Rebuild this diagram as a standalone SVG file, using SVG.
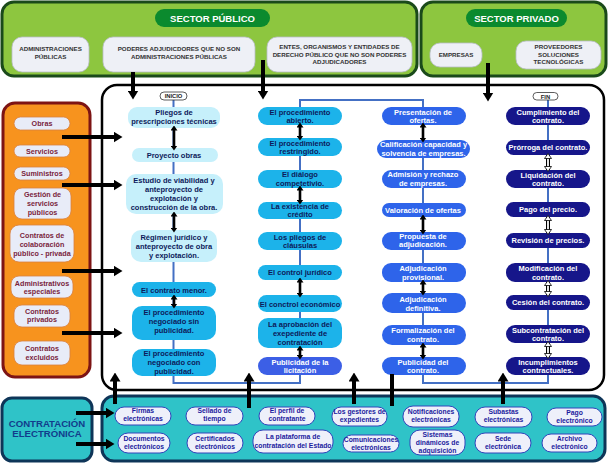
<svg xmlns="http://www.w3.org/2000/svg" width="608" height="463" viewBox="0 0 608 463">
<style>
.t{font-family:"Liberation Sans",Arial,sans-serif;font-weight:bold;text-anchor:middle}
.top{font-size:6.2px;fill:#333}
.hd{font-size:9.5px;fill:#fff}
.c{font-size:7.5px}
.dk{fill:#0d1a5a}
.wh{fill:#fff}
.lt{font-size:7.2px;fill:#7a1f3d}
.bt{font-size:6.8px;fill:#1b1b9e}
.green{fill:#8dc63f;stroke:#1a4a1a;stroke-width:3}
.pillg{fill:#0b8a2e}
.lbox{fill:#eef0f6;stroke:#b8bcc8;stroke-width:0.8}
.obox{fill:#e8ecf8;stroke:#d88040;stroke-width:0.8}
.bbox{fill:#eef0fa;stroke:#3344bb;stroke-width:1}
.c1{fill:#c6f0fb}
.cy{fill:#1cb3ea}
.pb{fill:#3c5fe6}
.rb{fill:#2e64ea}
.nv{fill:#16168a}
.big{stroke:#000;stroke-width:4;fill:none}
.sm{stroke:#000;stroke-width:2.6;fill:none}
.flow{stroke:#4470c4;stroke-width:2;fill:none}
</style>
<defs>
<marker id="bigh" viewBox="0 0 9 11" refX="0.5" refY="5.5" markerWidth="9" markerHeight="11" markerUnits="userSpaceOnUse" orient="auto"><path d="M0,0 L9,5.5 L0,11 z" fill="#000"/></marker>
<marker id="smh" viewBox="0 0 5 7" refX="0.5" refY="3.5" markerWidth="5" markerHeight="7" markerUnits="userSpaceOnUse" orient="auto-start-reverse"><path d="M0,0 L5,3.5 L0,7 z" fill="#000"/></marker>
<marker id="wth" viewBox="-1 -1 7 9" refX="0.5" refY="3.5" markerWidth="7" markerHeight="9" markerUnits="userSpaceOnUse" orient="auto-start-reverse"><path d="M0,0 L5,3.5 L0,7 z" fill="#fff" stroke="#000" stroke-width="0.8"/></marker>
</defs>

<!-- containers -->
<g id="sector-publico">
<rect class="green" x="2" y="2" width="415" height="74" rx="12"/>
<rect class="pillg" x="155" y="9" width="115" height="18" rx="9"/>
<text class="t hd" x="212.5" y="21.5">SECTOR PÚBLICO</text>
</g>
<g id="sector-privado">
<rect class="green" x="421" y="2" width="185" height="74" rx="12"/>
<rect class="pillg" x="466" y="9" width="101" height="18" rx="9"/>
<text class="t hd" x="516.5" y="21.5">SECTOR PRIVADO</text>
</g>
<g id="tipos-contrato">
<rect x="3" y="103" width="87" height="274" rx="12" fill="#f7931e" stroke="#7d1414" stroke-width="3"/>
</g>
<g id="procedimiento">
<rect x="102" y="85" width="502" height="305" rx="15" fill="#fff" stroke="#000" stroke-width="2.5"/>
</g>
<g id="contratacion-electronica">
<rect x="2" y="398" width="90" height="63" rx="10" fill="#2fc3c8" stroke="#0e3558" stroke-width="3"/>
<text class="t" x="47" y="426.5" font-size="9.6" fill="#123c8c">CONTRATACIÓN</text>
<text class="t" x="47" y="437" font-size="9.6" fill="#123c8c">ELECTRÓNICA</text>
</g>
<g id="herramientas">
<rect x="102" y="396" width="503" height="65" rx="12" fill="#2fc3c8" stroke="#0e3558" stroke-width="3"/>
</g>

<!-- top boxes -->
<g id="administraciones-publicas">
<rect class="lbox" x="12" y="37" width="77" height="35" rx="10"/>
<text class="t top" x="50.5" y="51.2">ADMINISTRACIONES</text>
<text class="t top" x="50.5" y="59.2">PÚBLICAS</text>
</g>
<g id="poderes-adjudicadores">
<rect class="lbox" x="103" y="37" width="152" height="35" rx="10"/>
<text class="t top" x="179" y="51.2">PODERES ADJUDICDORES QUE NO SON</text>
<text class="t top" x="179" y="59.2">ADMINISTRACIONES PÚBLICAS</text>
</g>
<g id="entes">
<rect class="lbox" x="267" y="37" width="145" height="35" rx="10"/>
<text class="t top" x="339.5" y="49">ENTES, ORGANISMOS Y ENTIDADES DE</text>
<text class="t top" x="339.5" y="56.5">DERECHO PÚBLICO QUE NO SON PODERES</text>
<text class="t top" x="339.5" y="64">ADJUDICADORES</text>
</g>
<g id="empresas">
<rect class="lbox" x="430" y="43" width="52" height="24" rx="10"/>
<text class="t top" x="456" y="57">EMPRESAS</text>
</g>
<g id="proveedores">
<rect class="lbox" x="516" y="41" width="85" height="28" rx="10"/>
<text class="t top" x="558.5" y="49">PROVEEDORES</text>
<text class="t top" x="558.5" y="56.5">SOLUCIONES</text>
<text class="t top" x="558.5" y="64">TECNOLÓGICAS</text>
</g>

<!-- left items -->
<g id="obras"><rect class="obox" x="14" y="117" width="56" height="13" rx="6.5"/><text class="t lt" x="42" y="126">Obras</text></g>
<g id="servicios"><rect class="obox" x="14" y="145" width="56" height="12" rx="6"/><text class="t lt" x="42" y="153.5">Servicios</text></g>
<g id="suministros"><rect class="obox" x="14" y="167" width="56" height="13" rx="6.5"/><text class="t lt" x="42" y="176">Suministros</text></g>
<g id="gestion"><rect class="obox" x="14" y="188" width="57" height="31" rx="8"/><text class="t lt" x="42.5" y="196.5">Gestión de</text><text class="t lt" x="42.5" y="205.5">servicios</text><text class="t lt" x="42.5" y="214.5">públicos</text></g>
<g id="colaboracion"><rect class="obox" x="10" y="225" width="64" height="37" rx="9"/><text class="t lt" x="42" y="237.5">Contratos de</text><text class="t lt" x="42" y="246.5">colaboración</text><text class="t lt" x="42" y="255.5">público - privada</text></g>
<g id="administrativos"><rect class="obox" x="11" y="276" width="62" height="22" rx="8"/><text class="t lt" x="42" y="285.5">Administrativos</text><text class="t lt" x="42" y="293.5">especiales</text></g>
<g id="privados"><rect class="obox" x="14" y="305" width="56" height="22" rx="8"/><text class="t lt" x="42" y="313.5">Contratos</text><text class="t lt" x="42" y="321.5">privados</text></g>
<g id="excluidos"><rect class="obox" x="14" y="341" width="56" height="24" rx="8"/><text class="t lt" x="42" y="350.5">Contratos</text><text class="t lt" x="42" y="359.5">excluidos</text></g>

<!-- flow line -->
<g id="flow-line">
<path class="flow" d="M173.5,100 V383 H300 V100 H423 V383 H548 V99"/>
</g>

<!-- column 1 -->
<g id="inicio"><rect x="160" y="92" width="27" height="8" rx="4" fill="#fff" stroke="#333" stroke-width="0.8"/><text class="t" x="173.5" y="98.3" font-size="5.8" fill="#222">INICIO</text></g>
<g id="pliegos-tecnicas"><rect class="c1" x="128" y="107" width="92" height="21" rx="9"/><text class="t c dk" x="174" y="115">Pliegos de</text><text class="t c dk" x="174" y="124">prescripciones técnicas</text></g>
<g id="proyecto-obras"><rect class="c1" x="132" y="148" width="86" height="14" rx="7"/><text class="t c dk" x="174" y="158">Proyecto obras</text></g>
<g id="estudio"><rect class="c1" x="126" y="174" width="97" height="40" rx="10"/><text class="t c dk" x="174" y="183">Estudio de viabilidad y</text><text class="t c dk" x="174" y="192">anteproyecto de</text><text class="t c dk" x="174" y="201">explotación y</text><text class="t c dk" x="174" y="210">construcción de la obra.</text></g>
<g id="regimen"><rect class="c1" x="131" y="230" width="86" height="32" rx="10"/><text class="t c dk" x="174" y="240">Régimen jurídico y</text><text class="t c dk" x="174" y="249">anteproyecto de obra</text><text class="t c dk" x="174" y="258">y explotación.</text></g>
<g id="contrato-menor"><rect class="cy" x="132" y="282" width="84" height="15" rx="7.5"/><text class="t c dk" x="174" y="292.5">El contrato menor.</text></g>
<g id="negociado-sin"><rect class="cy" x="132" y="306" width="84" height="34" rx="10"/><text class="t c dk" x="174" y="315">El procedimiento</text><text class="t c dk" x="174" y="324">negociado sin</text><text class="t c dk" x="174" y="333">publicidad.</text></g>
<g id="negociado-con"><rect class="cy" x="132" y="349" width="84" height="27" rx="10"/><text class="t c dk" x="174" y="356">El procedimiento</text><text class="t c dk" x="174" y="365">negociado con</text><text class="t c dk" x="174" y="373.5">publicidad.</text></g>

<!-- column 2 -->
<g id="abierto"><rect class="cy" x="258" y="107" width="84" height="18" rx="9"/><text class="t c dk" x="300" y="114.5">El procedimiento</text><text class="t c dk" x="300" y="122.5">abierto.</text></g>
<g id="restringido"><rect class="cy" x="258" y="138" width="84" height="18" rx="9"/><text class="t c dk" x="300" y="145.5">El procedimiento</text><text class="t c dk" x="300" y="153.5">restringido.</text></g>
<g id="dialogo"><rect class="cy" x="258" y="170" width="84" height="18" rx="9"/><text class="t c dk" x="300" y="176.5">El diálogo</text><text class="t c dk" x="300" y="185.5">competetivio.</text></g>
<g id="existencia"><rect class="cy" x="258" y="202" width="84" height="17" rx="8.5"/><text class="t c dk" x="300" y="208.5">La existencia de</text><text class="t c dk" x="300" y="216.5">crédito</text></g>
<g id="pliegos-clausulas"><rect class="cy" x="258" y="232" width="84" height="18" rx="9"/><text class="t c dk" x="300" y="239.5">Los pliegos de</text><text class="t c dk" x="300" y="247.5">cláusulas</text></g>
<g id="control-juridico"><rect class="cy" x="258" y="265" width="84" height="15" rx="7.5"/><text class="t c dk" x="300" y="275">El control jurídico</text></g>
<g id="control-economico"><rect class="cy" x="258" y="295" width="84" height="17" rx="8.5"/><text class="t c dk" x="300" y="306.5">El conctrol económico</text></g>
<g id="aprobacion"><rect class="cy" x="258" y="318" width="84" height="30" rx="10"/><text class="t c dk" x="300" y="326.5">La aprobación del</text><text class="t c dk" x="300" y="335.5">exepediente de</text><text class="t c dk" x="300" y="344.5">contratación</text></g>
<g id="publicidad-licitacion"><rect class="pb" x="258" y="357" width="84" height="18" rx="9"/><text class="t c wh" x="300" y="364.5">Publicidad de la</text><text class="t c wh" x="300" y="373">licitación</text></g>

<!-- column 3 -->
<g id="presentacion"><rect class="rb" x="382" y="107" width="84" height="18" rx="9"/><text class="t c wh" x="423" y="114.5">Presentación de</text><text class="t c wh" x="423" y="122.5">ofertas.</text></g>
<g id="calificacion"><rect class="rb" x="377" y="140" width="93" height="18" rx="9"/><text class="t c wh" x="423.5" y="146.5">Calificación capacidad y</text><text class="t c wh" x="423.5" y="155.5">solvencia de empresas.</text></g>
<g id="admision"><rect class="rb" x="382" y="170" width="84" height="18" rx="9"/><text class="t c wh" x="423" y="177">Admisión y rechazo</text><text class="t c wh" x="423" y="186">de empresas.</text></g>
<g id="valoracion"><rect class="rb" x="382" y="203" width="84" height="14" rx="7"/><text class="t c wh" x="423" y="212.5">Valoración de ofertas</text></g>
<g id="propuesta"><rect class="rb" x="382" y="232" width="84" height="18" rx="9"/><text class="t c wh" x="423" y="238.5">Propuesta de</text><text class="t c wh" x="423" y="247">adjudicación.</text></g>
<g id="provisional"><rect class="rb" x="382" y="263" width="84" height="19" rx="9"/><text class="t c wh" x="423" y="270.5">Adjudicación</text><text class="t c wh" x="423" y="279.5">provisional.</text></g>
<g id="definitiva"><rect class="rb" x="382" y="293" width="84" height="20" rx="10"/><text class="t c wh" x="423" y="301.5">Adjudicación</text><text class="t c wh" x="423" y="310.5">definitiva.</text></g>
<g id="formalizacion"><rect class="rb" x="382" y="325" width="84" height="20" rx="10"/><text class="t c wh" x="423" y="332.5">Formalización del</text><text class="t c wh" x="423" y="341.5">contrato.</text></g>
<g id="publicidad-contrato"><rect class="rb" x="382" y="357" width="84" height="18" rx="9"/><text class="t c wh" x="423" y="364.5">Publicidad del</text><text class="t c wh" x="423" y="373">contrato.</text></g>

<!-- column 4 -->
<g id="fin"><rect x="533" y="92.5" width="25" height="7.5" rx="3.75" fill="#fff" stroke="#333" stroke-width="0.8"/><text class="t" x="545.5" y="98.5" font-size="5.8" fill="#222">FIN</text></g>
<g id="cumplimiento"><rect class="nv" x="506" y="107" width="84" height="18" rx="9"/><text class="t c wh" x="548" y="114.5">Cumplimiento del</text><text class="t c wh" x="548" y="122.5">contrato.</text></g>
<g id="prorroga"><rect class="nv" x="506" y="140" width="84" height="15" rx="7.5"/><text class="t c wh" x="548" y="150.3">Prórroga del contrato.</text></g>
<g id="liquidacion"><rect class="nv" x="506" y="170" width="84" height="18" rx="9"/><text class="t c wh" x="548" y="177.5">Liquidación del</text><text class="t c wh" x="548" y="185.5">contrato.</text></g>
<g id="pago-precio"><rect class="nv" x="506" y="202" width="84" height="15" rx="7.5"/><text class="t c wh" x="548" y="212.3">Pago del precio.</text></g>
<g id="revision"><rect class="nv" x="506" y="233" width="84" height="15" rx="7.5"/><text class="t c wh" x="548" y="243.3">Revisión de precios.</text></g>
<g id="modificacion"><rect class="nv" x="506" y="263" width="84" height="19" rx="9"/><text class="t c wh" x="548" y="270.5">Modificación del</text><text class="t c wh" x="548" y="279.5">contrato.</text></g>
<g id="cesion"><rect class="nv" x="506" y="295" width="84" height="15" rx="7.5"/><text class="t c wh" x="548" y="305.3">Cesión del contrato.</text></g>
<g id="subcontratacion"><rect class="nv" x="506" y="325" width="84" height="18" rx="9"/><text class="t c wh" x="548" y="332.5">Subcontratación del</text><text class="t c wh" x="548" y="341">contrato.</text></g>
<g id="incumplimientos"><rect class="nv" x="506" y="357" width="84" height="18" rx="9"/><text class="t c wh" x="548" y="364.5">Incumplimientos</text><text class="t c wh" x="548" y="373">contractuales.</text></g>

<!-- bottom tools -->
<g id="firmas"><rect class="bbox" x="115" y="407" width="56" height="18" rx="9"/><text class="t bt" x="143" y="413">Firmas</text><text class="t bt" x="143" y="421">electrónicas</text></g>
<g id="sellado"><rect class="bbox" x="186" y="407" width="57" height="18" rx="9"/><text class="t bt" x="214.5" y="413">Sellado de</text><text class="t bt" x="214.5" y="421">tiempo</text></g>
<g id="perfil"><rect class="bbox" x="259" y="407" width="56" height="18" rx="9"/><text class="t bt" x="287" y="413">El perfil de</text><text class="t bt" x="287" y="421">contratante</text></g>
<g id="gestores"><rect class="bbox" x="332" y="407" width="55" height="19" rx="9"/><text class="t bt" x="359.5" y="413.5">Los gestores de</text><text class="t bt" x="359.5" y="421.5">expedientes</text></g>
<g id="notificaciones"><rect class="bbox" x="403" y="406" width="56" height="21" rx="10"/><text class="t bt" x="431" y="413.5">Notificaciones</text><text class="t bt" x="431" y="421.5">electrónicas</text></g>
<g id="subastas"><rect class="bbox" x="475" y="407" width="57" height="20" rx="10"/><text class="t bt" x="503.5" y="413.5">Subastas</text><text class="t bt" x="503.5" y="421.5">electrónicas</text></g>
<g id="pago-electronico"><rect class="bbox" x="547" y="408" width="55" height="18" rx="9"/><text class="t bt" x="574.5" y="414.5">Pago</text><text class="t bt" x="574.5" y="422.5">electrónico</text></g>
<g id="documentos"><rect class="bbox" x="118" y="433" width="52" height="20" rx="10"/><text class="t bt" x="144" y="440.5">Documentos</text><text class="t bt" x="144" y="449">electrónicos</text></g>
<g id="certificados"><rect class="bbox" x="187" y="433" width="56" height="20" rx="10"/><text class="t bt" x="215" y="440.5">Certificados</text><text class="t bt" x="215" y="449">electrónicos</text></g>
<g id="plataforma"><rect class="bbox" x="253" y="430" width="80" height="23" rx="10"/><text class="t bt" x="293" y="439">La plataforma de</text><text class="t bt" x="293" y="448">contratación del Estado</text></g>
<g id="comunicaciones"><rect class="bbox" x="343" y="435" width="56" height="17" rx="8.5"/><text class="t bt" x="371" y="441.5">Comunicaciones</text><text class="t bt" x="371" y="449.5">electrónicas</text></g>
<g id="sistemas"><rect class="bbox" x="410" y="430" width="55" height="25" rx="10"/><text class="t bt" x="437.5" y="436.5">Sistemas</text><text class="t bt" x="437.5" y="444.5">dinámicos de</text><text class="t bt" x="437.5" y="452.5">adquisición</text></g>
<g id="sede"><rect class="bbox" x="475" y="433" width="56" height="20" rx="10"/><text class="t bt" x="503" y="440.5">Sede</text><text class="t bt" x="503" y="449">electrónica</text></g>
<g id="archivo"><rect class="bbox" x="542" y="434" width="55" height="18" rx="9"/><text class="t bt" x="569.5" y="440.5">Archivo</text><text class="t bt" x="569.5" y="448.5">electrónico</text></g>

<!-- connectors -->
<g id="connectors">
<line class="big" x1="133" y1="72" x2="133" y2="91" marker-end="url(#bigh)"/>
<line class="big" x1="263" y1="60" x2="263" y2="91" marker-end="url(#bigh)"/>
<line class="big" x1="488" y1="63" x2="488" y2="93" marker-end="url(#bigh)"/>
<line class="big" x1="62" y1="137" x2="114" y2="137" marker-end="url(#bigh)"/>
<line class="big" x1="62" y1="185" x2="114" y2="185" marker-end="url(#bigh)"/>
<line class="big" x1="62" y1="271" x2="114" y2="271" marker-end="url(#bigh)"/>
<line class="big" x1="62" y1="333" x2="114" y2="333" marker-end="url(#bigh)"/>
<line class="big" x1="76" y1="413" x2="106" y2="413" marker-end="url(#bigh)"/>
<line class="big" x1="76" y1="444" x2="106" y2="444" marker-end="url(#bigh)"/>
<line class="big" x1="115" y1="404" x2="115" y2="381" marker-end="url(#bigh)"/>
<line class="big" x1="249" y1="408" x2="249" y2="381" marker-end="url(#bigh)"/>
<line class="big" x1="354" y1="404" x2="354" y2="381" marker-end="url(#bigh)"/>
<line class="big" x1="503" y1="404" x2="503" y2="381" marker-end="url(#bigh)"/>
<line class="big" x1="392" y1="374" x2="392" y2="406"/>
<line class="sm" x1="174" y1="130" x2="174" y2="146" marker-start="url(#smh)" marker-end="url(#smh)"/>
<line class="sm" x1="174" y1="216" x2="174" y2="228" marker-start="url(#smh)" marker-end="url(#smh)"/>
<line class="sm" x1="174" y1="299" x2="174" y2="304" marker-start="url(#smh)" marker-end="url(#smh)"/>
<line class="sm" x1="300" y1="127" x2="300" y2="136" marker-start="url(#smh)" marker-end="url(#smh)"/>
<line class="sm" x1="300" y1="190" x2="300" y2="200" marker-start="url(#smh)" marker-end="url(#smh)"/>
<line class="sm" x1="300" y1="282" x2="300" y2="293" marker-start="url(#smh)" marker-end="url(#smh)"/>
<line class="sm" x1="300" y1="350" x2="300" y2="355" marker-start="url(#smh)" marker-end="url(#smh)"/>
<line class="sm" x1="423" y1="127" x2="423" y2="138" marker-start="url(#smh)" marker-end="url(#smh)"/>
<line class="sm" x1="423" y1="219" x2="423" y2="230" marker-start="url(#smh)" marker-end="url(#smh)"/>
<line class="sm" x1="423" y1="284" x2="423" y2="291" marker-start="url(#smh)" marker-end="url(#smh)"/>
<line class="sm" x1="423" y1="347" x2="423" y2="355" marker-start="url(#smh)" marker-end="url(#smh)"/>
<g stroke-linecap="butt">
<line x1="548" y1="155" x2="548" y2="170" stroke="#000" stroke-width="4"/>
<line x1="548" y1="158" x2="548" y2="167" stroke="#fff" stroke-width="1.8" marker-start="url(#wth)" marker-end="url(#wth)"/>
<line x1="548" y1="217" x2="548" y2="233" stroke="#000" stroke-width="4"/>
<line x1="548" y1="220" x2="548" y2="230" stroke="#fff" stroke-width="1.8" marker-start="url(#wth)" marker-end="url(#wth)"/>
<line x1="548" y1="282" x2="548" y2="295" stroke="#000" stroke-width="4"/>
<line x1="548" y1="285" x2="548" y2="292" stroke="#fff" stroke-width="1.8" marker-start="url(#wth)" marker-end="url(#wth)"/>
<line x1="548" y1="343" x2="548" y2="357" stroke="#000" stroke-width="4"/>
<line x1="548" y1="346" x2="548" y2="354" stroke="#fff" stroke-width="1.8" marker-start="url(#wth)" marker-end="url(#wth)"/>
</g>
</g>
</svg>
